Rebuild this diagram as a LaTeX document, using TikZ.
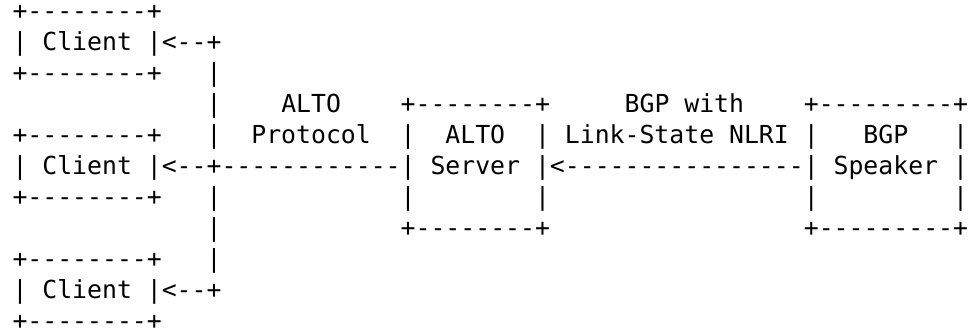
\documentclass[tikz,border=0pt]{standalone}
\usepackage{fontspec}
\setmonofont{DejaVu Sans Mono}
\begin{document}
\begin{tikzpicture}[x=0.75pt,y=-0.75pt,
  rowtext/.style={anchor=base west,inner sep=0pt,outer sep=0pt,text=black,
    font=\ttfamily\fontsize{18.6pt}{23.25pt}\selectfont}]
\useasboundingbox (0,0) rectangle (973,332);
\node[rowtext] (r1)  at (12.5,19)  {+--------+};
\node[rowtext] (r2)  at (12.5,50)  {|~Client~|<--+};
\node[rowtext] (r3)  at (12.5,81)  {+--------+~~~|};
\node[rowtext] (r4)  at (12.5,112) {~~~~~~~~~~~~~|~~~~ALTO~~~~+--------+~~~~~BGP~with~~~~+---------+};
\node[rowtext] (r5)  at (12.5,143) {+--------+~~~|~~Protocol~~|~~ALTO~~|~Link-State~NLRI~|~~~BGP~~~|};
\node[rowtext] (r6)  at (12.5,174) {|~Client~|<--+------------|~Server~|<----------------|~Speaker~|};
\node[rowtext] (r7)  at (12.5,205) {+--------+~~~|~~~~~~~~~~~~|~~~~~~~~|~~~~~~~~~~~~~~~~~|~~~~~~~~~|};
\node[rowtext] (r8)  at (12.5,236) {~~~~~~~~~~~~~|~~~~~~~~~~~~+--------+~~~~~~~~~~~~~~~~~+---------+};
\node[rowtext] (r9)  at (12.5,267) {+--------+~~~|};
\node[rowtext] (r10) at (12.5,298) {|~Client~|<--+};
\node[rowtext] (r11) at (12.5,329) {+--------+};
\end{tikzpicture}
\end{document}
